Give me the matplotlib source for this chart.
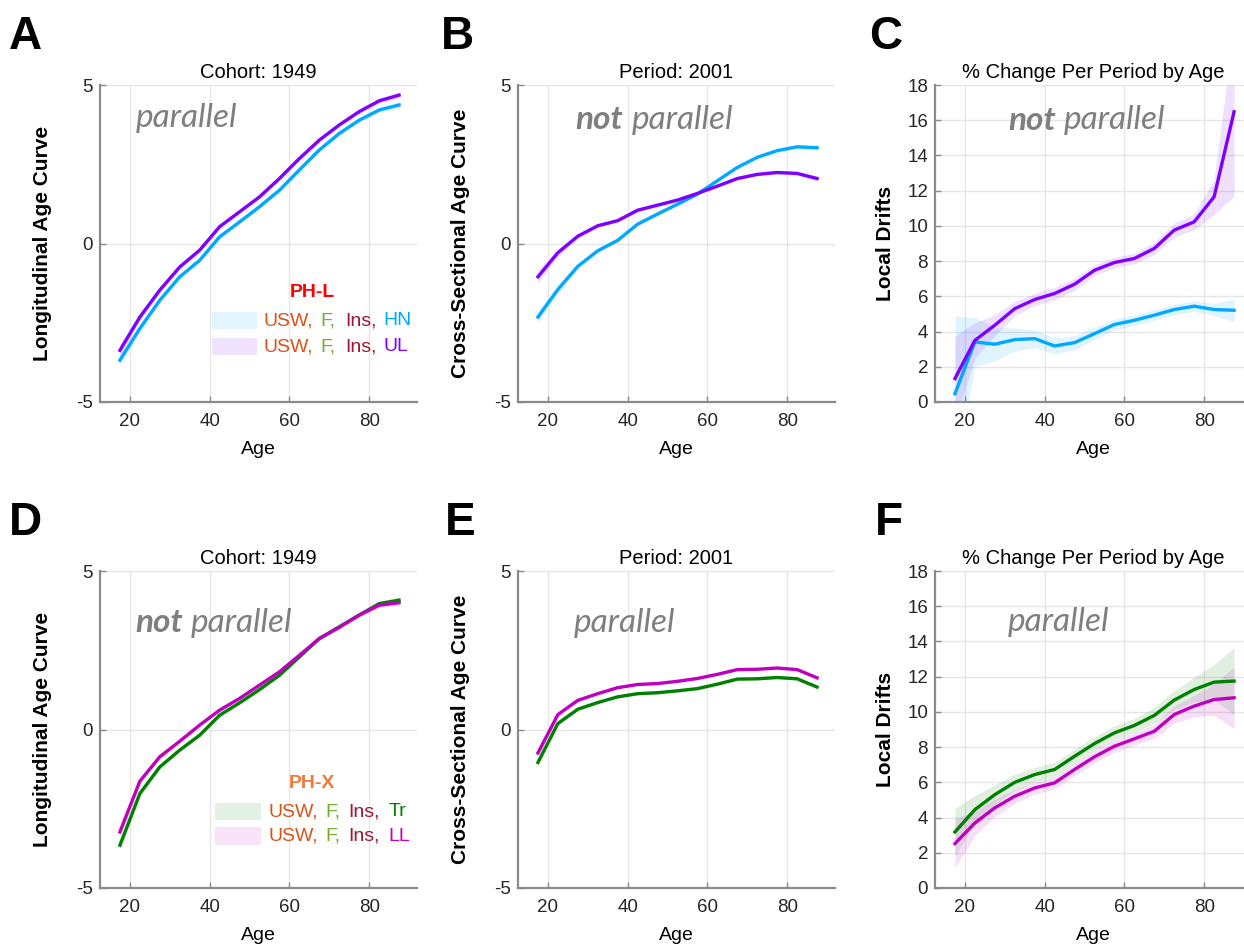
import matplotlib.pyplot as plt
from matplotlib.patches import Rectangle

plt.rcParams['font.family'] = ['Liberation Sans', 'DejaVu Sans']
plt.rcParams['axes.unicode_minus'] = False

# age group midpoints
age = [17.5, 22.5, 27.5, 32.5, 37.5, 42.5, 47.5, 52.5, 57.5, 62.5, 67.5, 72.5, 77.5, 82.5, 87.5]

# PH-L: longitudinal age curve, cohort 1949
a_hn = [-3.68, -2.68, -1.79, -1.05, -0.53, 0.21, 0.68, 1.16, 1.68, 2.32, 2.95, 3.47, 3.89, 4.21, 4.37]
a_ul = [-3.37, -2.32, -1.47, -0.74, -0.21, 0.53, 1.0, 1.47, 2.05, 2.68, 3.26, 3.74, 4.16, 4.5, 4.68]
a_ci = [0.2, 0.12, 0.08, 0.06, 0.05, 0.05, 0.05, 0.05, 0.05, 0.05, 0.05, 0.06, 0.07, 0.08, 0.1]

# PH-L: cross-sectional age curve, period 2001
b_hn = [-2.32, -1.45, -0.72, -0.23, 0.1, 0.61, 0.93, 1.24, 1.56, 1.98, 2.4, 2.72, 2.93, 3.05, 3.02]
b_ul = [-1.05, -0.29, 0.23, 0.56, 0.72, 1.05, 1.21, 1.37, 1.58, 1.81, 2.05, 2.18, 2.24, 2.21, 2.05]
b_ci = [0.2, 0.12, 0.08, 0.06, 0.05, 0.05, 0.05, 0.05, 0.05, 0.05, 0.05, 0.05, 0.05, 0.06, 0.08]

# PH-L: local drifts
c_hn = [0.47, 3.41, 3.28, 3.54, 3.6, 3.18, 3.37, 3.88, 4.4, 4.64, 4.93, 5.25, 5.44, 5.25, 5.21]
c_ul = [1.33, 3.5, 4.36, 5.3, 5.82, 6.16, 6.69, 7.48, 7.92, 8.15, 8.72, 9.76, 10.23, 11.65, 16.48]
c_hn_ci = [4.4, 1.4, 0.95, 0.65, 0.5, 0.45, 0.4, 0.35, 0.3, 0.3, 0.3, 0.3, 0.3, 0.35, 0.65]
c_ul_ci = [2.4, 1.0, 0.6, 0.4, 0.35, 0.35, 0.35, 0.3, 0.3, 0.3, 0.35, 0.4, 0.45, 1.0, 4.8]

# PH-X: longitudinal age curve, cohort 1949
d_tr = [-3.65, -2.02, -1.18, -0.65, -0.18, 0.45, 0.84, 1.26, 1.71, 2.29, 2.87, 3.24, 3.61, 3.97, 4.08]
d_ll = [-3.23, -1.63, -0.86, -0.37, 0.14, 0.61, 0.98, 1.4, 1.82, 2.34, 2.87, 3.22, 3.61, 3.92, 4.0]
d_ci = [0.12, 0.08, 0.06, 0.05, 0.05, 0.05, 0.05, 0.05, 0.05, 0.05, 0.05, 0.05, 0.06, 0.08, 0.1]

# PH-X: cross-sectional age curve, period 2001
e_tr = [-1.04, 0.19, 0.64, 0.85, 1.03, 1.13, 1.16, 1.22, 1.29, 1.43, 1.59, 1.6, 1.64, 1.6, 1.34]
e_ll = [-0.74, 0.47, 0.92, 1.13, 1.32, 1.42, 1.45, 1.52, 1.61, 1.74, 1.89, 1.9, 1.94, 1.89, 1.63]
e_ci = [0.1, 0.06, 0.05, 0.04, 0.04, 0.04, 0.04, 0.04, 0.04, 0.04, 0.04, 0.04, 0.04, 0.05, 0.06]

# PH-X: local drifts
f_tr = [3.18, 4.45, 5.3, 6.0, 6.44, 6.73, 7.48, 8.2, 8.81, 9.23, 9.8, 10.67, 11.27, 11.69, 11.75]
f_ll = [2.52, 3.69, 4.55, 5.21, 5.68, 5.97, 6.73, 7.45, 8.05, 8.47, 8.9, 9.85, 10.33, 10.7, 10.8]
f_tr_ci = [1.35, 0.8, 0.55, 0.45, 0.4, 0.4, 0.4, 0.4, 0.4, 0.4, 0.45, 0.55, 0.7, 1.0, 1.9]
f_ll_ci = [1.4, 0.7, 0.5, 0.4, 0.35, 0.35, 0.35, 0.35, 0.35, 0.35, 0.4, 0.5, 0.6, 0.9, 1.75]

C_HN = '#00a8ff'
C_UL = '#7f00ff'
C_TR = '#008000'
C_LL = '#c000c0'
C_USW = '#d95319'
C_F = '#77ac30'
C_INS = '#a2142f'
GRAY_TXT = '#7f7f7f'

W, H = 1244, 944
fig = plt.figure(figsize=(W / 100, H / 100), dpi=100)


def make_ax(left_px, top_px, size=317):
    return fig.add_axes([left_px / W, 1 - (top_px + size) / H, size / W, size / H])


def style(ax, ylim, yticks, title, ylabel, ylab_x):
    ax.set_xlim(12.5, 92)
    ax.set_ylim(*ylim)
    ax.set_xticks([20, 40, 60, 80])
    ax.set_yticks(yticks)
    ax.grid(True, color='#e6e6e6', lw=1)
    ax.set_axisbelow(True)
    for s in ['top', 'right']:
        ax.spines[s].set_visible(False)
    for s in ['left', 'bottom']:
        ax.spines[s].set_color('#8a8a8a')
        ax.spines[s].set_linewidth(1.6)
    ax.tick_params(direction='in', length=4, width=1, color='#8a8a8a',
                   labelsize=13.5, labelcolor='#262626')
    ax.tick_params(axis='x', pad=8)
    ax.tick_params(axis='y', pad=5)
    ax.set_title(title, fontsize=14.5, pad=5)
    ax.set_ylabel(ylabel, fontsize=15, fontweight='bold')
    ax.yaxis.set_label_coords(ylab_x, 0.5)
    ax.set_xlabel('Age', fontsize=14, labelpad=8)


def curve(ax, y, ci, color):
    lo = [v - c for v, c in zip(y, ci)]
    hi = [v + c for v, c in zip(y, ci)]
    ax.fill_between(age, lo, hi, color=color, alpha=0.12, lw=0)
    ax.plot(age, y, color=color, lw=2.4, solid_joinstyle='round')


def note(ax, x, y, bold_word=None):
    kw = dict(fontfamily='Lato', style='italic', color=GRAY_TXT, fontsize=24, va='center')
    if bold_word:
        t = ax.text(x, y, bold_word, fontweight='bold', **kw)
        ax.annotate('parallel', xy=(1, 0.5), xycoords=t, xytext=(6, 0),
                    textcoords='offset points', ha='left', **kw)
    else:
        ax.text(x, y, 'parallel', **kw)


def legend(ax, title, title_color, title_pos, patch_x, words_x, rows_y, rows):
    ax.text(title_pos[0], title_pos[1], title, transform=ax.transAxes, ha='center',
            va='center', fontsize=14, fontweight='bold', color=title_color)
    for y, (last, color, fill) in zip(rows_y, rows):
        ax.add_patch(Rectangle((patch_x[0], y - 0.027), patch_x[1] - patch_x[0], 0.054,
                               transform=ax.transAxes, color=fill, lw=0))
        words = [('USW,', C_USW), ('F,', C_F), ('Ins,', C_INS), (last, color)]
        for wx, (w, c) in zip(words_x, words):
            ax.text(wx, y, w, transform=ax.transAxes, ha='left', va='center',
                    fontsize=14, color=c)


# top row: PH-L
ax = make_ax(100, 85)
curve(ax, a_hn, a_ci, C_HN)
curve(ax, a_ul, a_ci, C_UL)
style(ax, (-5, 5), [-5, 0, 5], 'Cohort: 1949', 'Longitudinal Age Curve', -0.15)
note(ax, 21.5, 3.95)
legend(ax, 'PH-L', '#ff0000', (0.669, 0.347), (0.353, 0.495),
       [0.517, 0.694, 0.773, 0.893], [0.256, 0.174],
       [('HN', C_HN, '#e2f4ff'), ('UL', C_UL, '#efe2ff')])

ax = make_ax(518, 85)
curve(ax, b_hn, b_ci, C_HN)
curve(ax, b_ul, b_ci, C_UL)
style(ax, (-5, 5), [-5, 0, 5], 'Period: 2001', 'Cross-Sectional Age Curve', -0.151)
note(ax, 26.9, 3.9, 'not')

ax = make_ax(935, 85)
curve(ax, c_hn, c_hn_ci, C_HN)
curve(ax, c_ul, c_ul_ci, C_UL)
style(ax, (0, 18), list(range(0, 19, 2)), '% Change Per Period by Age', 'Local Drifts', -0.126)
note(ax, 30.8, 16.0, 'not')

# bottom row: PH-X
ax = make_ax(100, 571)
curve(ax, d_tr, d_ci, C_TR)
curve(ax, d_ll, d_ci, C_LL)
style(ax, (-5, 5), [-5, 0, 5], 'Cohort: 1949', 'Longitudinal Age Curve', -0.15)
note(ax, 21.3, 3.36, 'not')
legend(ax, 'PH-X', '#f07a3c', (0.669, 0.331), (0.363, 0.508),
       [0.530, 0.710, 0.782, 0.909], [0.240, 0.164],
       [('Tr', C_TR, '#e3f1e3'), ('LL', C_LL, '#f8e2f8')])

ax = make_ax(518, 571)
curve(ax, e_tr, e_ci, C_TR)
curve(ax, e_ll, e_ci, C_LL)
style(ax, (-5, 5), [-5, 0, 5], 'Period: 2001', 'Cross-Sectional Age Curve', -0.151)
note(ax, 26.4, 3.36)

ax = make_ax(935, 571)
curve(ax, f_tr, f_tr_ci, C_TR)
curve(ax, f_ll, f_ll_ci, C_LL)
style(ax, (0, 18), list(range(0, 19, 2)), '% Change Per Period by Age', 'Local Drifts', -0.126)
note(ax, 30.8, 15.1)

# panel letters
for letter, x, y in [('A', 9, 49), ('B', 441, 49), ('C', 869, 49),
                     ('D', 9, 535), ('E', 445, 535), ('F', 875, 535)]:
    fig.text(x / W, 1 - y / H, letter, fontsize=33, fontweight='bold', va='baseline')

fig.savefig('out.png', dpi=100)
